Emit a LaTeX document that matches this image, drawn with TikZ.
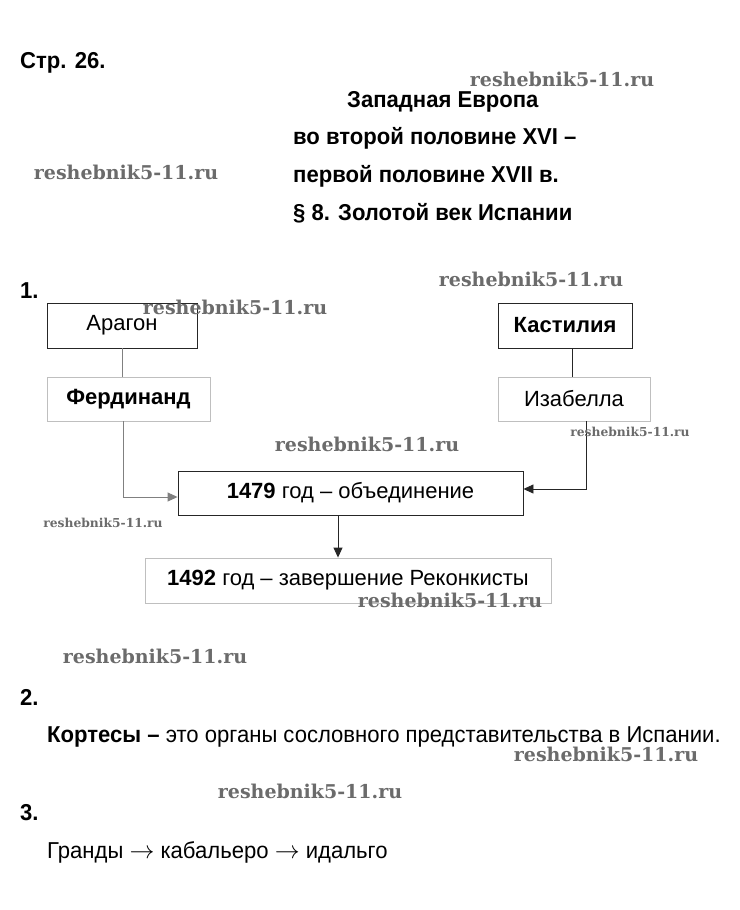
\documentclass[tikz,border=0pt]{standalone}
\usepackage{fontspec}
\setmainfont{Liberation Sans}
\newfontfamily\narrowfont[FakeStretch=0.96]{Liberation Sans}
\newfontfamily\wmfont{DejaVu Serif}
\usetikzlibrary{arrows.meta}
\definecolor{darkline}{gray}{0.15}
\definecolor{lightline}{gray}{0.75}
\definecolor{midline}{gray}{0.5}
\definecolor{wmgray}{gray}{0.42}
\tikzset{
  txt/.style={anchor=base west, inner sep=0pt, font=\narrowfont\fontsize{23}{27}\selectfont},
  boxdark/.style={draw=darkline, line width=0.9pt, inner sep=0pt, font=\fontsize{22}{26}\selectfont},
  boxlight/.style={draw=lightline, line width=0.9pt, inner sep=0pt, font=\fontsize{22}{26}\selectfont},
  conn/.style={line width=0.9pt, draw=darkline},
  connmid/.style={line width=0.9pt, draw=midline},
  tip/.style={-{Triangle[length=10pt,width=9pt]}},
  wm/.style={inner sep=0pt, text=wmgray, font=\wmfont\bfseries\fontsize{19}{22}\selectfont},
  wmsmall/.style={inner sep=0pt, text=wmgray, font=\wmfont\bfseries\fontsize{12.3}{14}\selectfont}
}
\begin{document}
\begin{tikzpicture}[x=1pt,y=-1pt]
\useasboundingbox[fill=white] (0,0) rectangle (739,910);
% headings
\node[txt] (page) at (20,68) {\bfseries Стр. 26.};
\node[txt] (h1) at (347,107) {\bfseries Западная Европа};
\node[txt] (h2) at (293,144) {\bfseries во второй половине XVI –};
\node[txt] (h3) at (293,182) {\bfseries первой половине XVII в.};
\node[txt] (h4) at (293,220) {\bfseries § 8. Золотой век Испании};
\node[txt] (n1) at (20,298) {\bfseries 1.};
% boxes
\node[boxdark, minimum width=150pt, minimum height=45pt] (arag) at (122,325.5) {Арагон};
\node[boxlight, minimum width=163pt, minimum height=44pt] (ferd) at (128.5,399) {\bfseries Фердинанд};
\node[boxdark, minimum width=134pt, minimum height=45pt] (kast) at (565,325.5) {\bfseries Кастилия};
\node[boxlight, minimum width=152pt, minimum height=44pt] (isab) at (574,399) {Изабелла};
\node[boxdark, minimum width=345pt, minimum height=44pt] (unif) at (350.5,493) {\bfseries 1479\mdseries{} год – объединение};
\node[boxlight, minimum width=406pt, minimum height=45pt] (reco) at (348,580.5) {\bfseries 1492\mdseries{} год – завершение Реконкисты};
% connectors
\draw[connmid] (arag.south) -- (arag.south |- ferd.north);
\draw[conn] ([xshift=7pt]kast.south) -- ([xshift=7pt]kast.south |- isab.north);
\draw[connmid, tip] ([xshift=-5.5pt]ferd.south) |- ([yshift=-4pt]unif.west);
\draw[conn, tip] ([xshift=12pt]isab.south) |- ([yshift=4pt]unif.east);
\draw[conn, tip] ([xshift=-12.5pt]unif.south) -- ([xshift=-12.5pt]unif.south |- reco.north);
% sections 2 and 3
\node[txt] (n2) at (20,705) {\bfseries 2.};
\node[txt] (cort) at (47,742) {\bfseries Кортесы –\mdseries{} это органы сословного представительства в Испании.};
\node[txt] (n3) at (20,820) {\bfseries 3.};
\node[txt] (gr) at (47,858) {Гранды $\rightarrow$ кабальеро $\rightarrow$ идальго};
% watermarks
\node[wm] (w1) at (562,79) {reshebnik5-11.ru};
\node[wm] (w2) at (126,172) {reshebnik5-11.ru};
\node[wm] (w3) at (531,279) {reshebnik5-11.ru};
\node[wm] (w4) at (235,307) {reshebnik5-11.ru};
\node[wm] (w5) at (367,444) {reshebnik5-11.ru};
\node[wmsmall] (w6) at (630,432) {reshebnik5-11.ru};
\node[wmsmall] (w7) at (103,523) {reshebnik5-11.ru};
\node[wm] (w8) at (450,600) {reshebnik5-11.ru};
\node[wm] (w9) at (155,656) {reshebnik5-11.ru};
\node[wm] (w10) at (606,754) {reshebnik5-11.ru};
\node[wm] (w11) at (310,791) {reshebnik5-11.ru};
\end{tikzpicture}
\end{document}
